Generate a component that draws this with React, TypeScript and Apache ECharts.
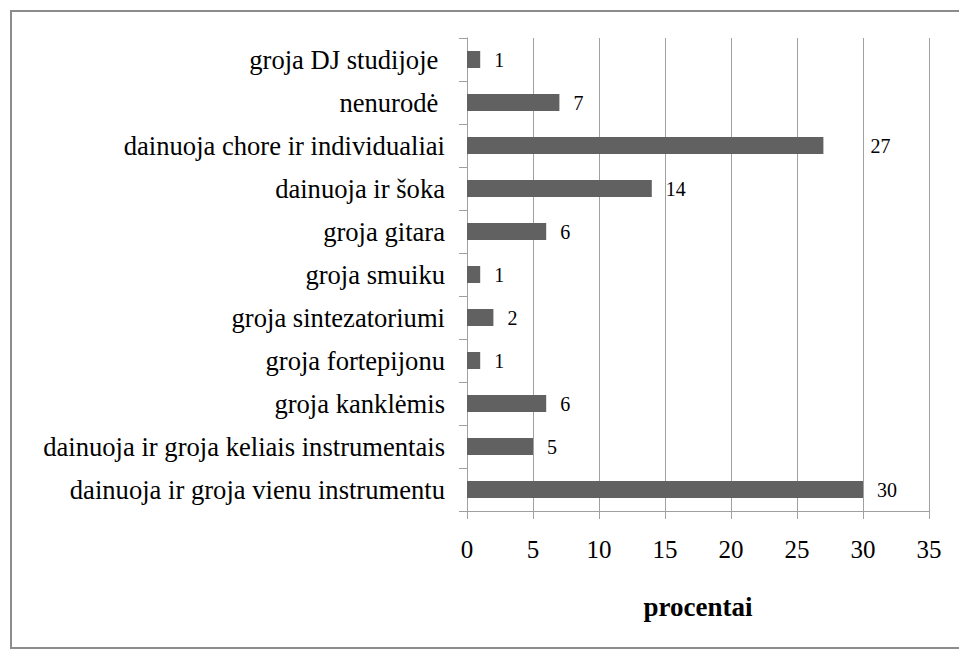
import React, { useEffect, useRef } from "react";
import * as echarts from "echarts";

const categories = [
  "groja DJ studijoje ",
  "nenurodė ",
  "dainuoja chore ir individualiai",
  "dainuoja ir šoka",
  "groja gitara",
  "groja smuiku",
  "groja sintezatoriumi",
  "groja fortepijonu",
  "groja kanklėmis",
  "dainuoja ir groja keliais instrumentais",
  "dainuoja ir groja vienu instrumentu",
];
const values = [1, 7, 27, 14, 6, 1, 2, 1, 6, 5, 30];
const xTicks = [0, 5, 10, 15, 20, 25, 30, 35];
const axisTitle = "procentai";

const FONT = "Liberation Serif";

export default function App() {
  const ref = useRef<HTMLDivElement>(null);
  useEffect(() => {
    if (!ref.current) return;
    const chart = echarts.init(ref.current, null, { renderer: "svg" });
    const data = values.map((v, i) =>
      i === 2 ? { value: v, label: { offset: [33, 0] } } : { value: v }
    );
    chart.setOption({
      animation: false,
      backgroundColor: "#ffffff",
      textStyle: { fontFamily: FONT },
      graphic: [
        {
          type: "rect",
          shape: { x: 11, y: 11, width: 970, height: 637 },
          style: { fill: "none", stroke: "#8c8c8c", lineWidth: 2 },
          z: -1,
        },
      ],
      grid: { left: 467, right: 30, top: 38, bottom: 139, containLabel: false },
      xAxis: {
        type: "value",
        min: xTicks[0],
        max: xTicks[xTicks.length - 1],
        interval: 5,
        name: axisTitle,
        nameLocation: "middle",
        nameGap: 82,
        nameTextStyle: { fontFamily: FONT, fontSize: 27, fontWeight: "bold", color: "#000" },
        axisLine: { show: true, lineStyle: { color: "#a0a0a0", width: 1 } },
        axisTick: { show: true, length: 8, lineStyle: { color: "#a0a0a0" } },
        axisLabel: { fontFamily: FONT, fontSize: 25, color: "#000", margin: 26 },
        splitLine: { show: true, lineStyle: { color: "#a0a0a0", width: 1 } },
      },
      yAxis: {
        type: "category",
        data: categories,
        inverse: true,
        axisLine: { show: true, lineStyle: { color: "#a0a0a0", width: 1 } },
        axisTick: { show: true, length: 8, lineStyle: { color: "#a0a0a0" } },
        axisLabel: { fontFamily: FONT, fontSize: 26.6, color: "#000", margin: 22 },
        splitLine: { show: false },
      },
      series: [
        {
          type: "bar",
          data,
          barWidth: 17,
          itemStyle: { color: "#616161" },
          label: {
            show: true,
            position: "right",
            distance: 14,
            fontFamily: FONT,
            fontSize: 20,
            color: "#000",
          },
        },
      ],
    });
    return () => chart.dispose();
  }, []);
  return (
    <div
      ref={ref}
      style={{ width: 959, height: 650, position: "absolute", left: 0, top: 0 }}
    />
  );
}
